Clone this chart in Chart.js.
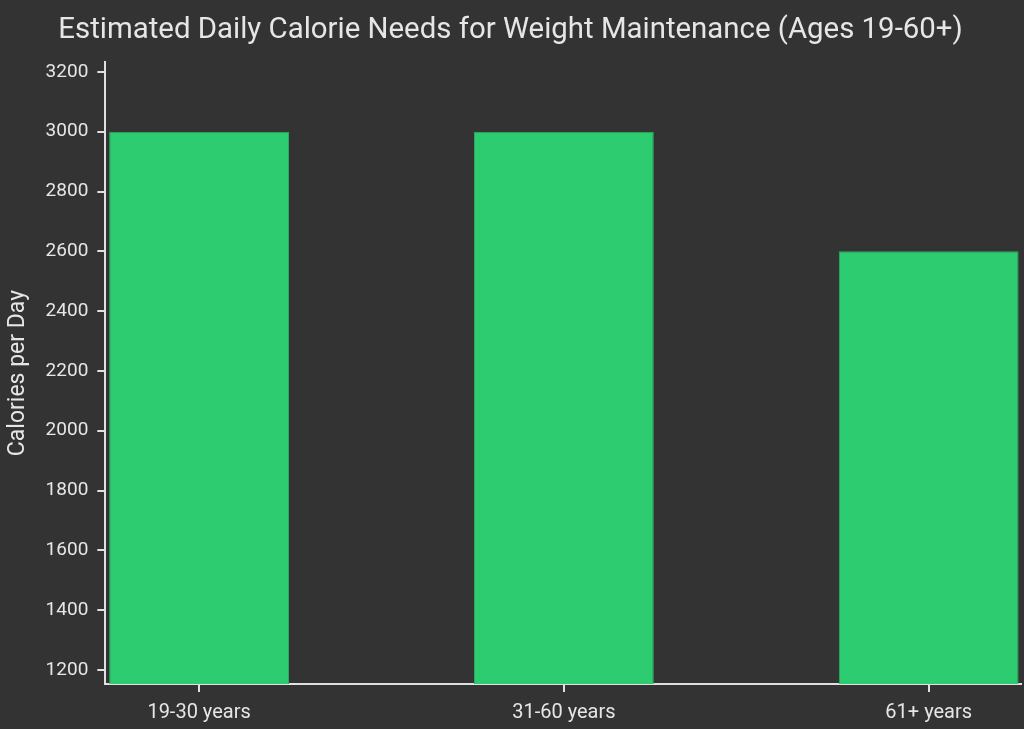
<!DOCTYPE html>
<html>
<head>
<meta charset="utf-8">
<script src="https://cdn.jsdelivr.net/npm/chart.js@4"></script>
<style>
html,body{margin:0;padding:0;background:#333333;overflow:hidden;}
#wrap{width:1024px;height:729px;position:relative;}
</style>
</head>
<body>
<div id="wrap"><canvas id="c"></canvas></div>
<script>
const categories = ["19-30 years", "31-60 years", "61+ years"];
const calories = [3000, 3000, 2600];
const yTicks = [1200, 1400, 1600, 1800, 2000, 2200, 2400, 2600, 2800, 3000, 3200];
const titleText = "Estimated Daily Calorie Needs for Weight Maintenance (Ages 19-60+)";
const yTitle = "Calories per Day";

const textColor = "#e6e6e6";
const axisColor = "#e0e0e0";
const fontFamily = "Roboto, 'Noto Sans', sans-serif";

new Chart(document.getElementById("c"), {
  type: "bar",
  data: {
    datasets: [{
      data: calories.map((v, i) => ({ x: i, y: v })),
      backgroundColor: "#2ecc71",
      borderColor: "#27ae60",
      borderWidth: 1,
      categoryPercentage: 1,
      barPercentage: 0.493
    }]
  },
  options: {
    responsive: true,
    maintainAspectRatio: false,
    animation: false,
    layout: { padding: { left: 0, right: 3, top: 0, bottom: -5 } },
    plugins: {
      legend: { display: false },
      tooltip: { enabled: false },
      title: {
        display: true,
        text: titleText,
        color: textColor,
        font: { family: fontFamily, size: 29.4, weight: "normal" },
        padding: { top: 13.4, bottom: 13.4 }
      }
    },
    scales: {
      x: {
        type: "linear",
        offset: false,
        min: -0.257,
        max: 2.253,
        afterBuildTicks: (s) => { s.ticks = categories.map((c, i) => ({ value: i })); },
        ticks: {
          color: textColor,
          font: { family: fontFamily, size: 20 },
          padding: 9,
          maxRotation: 0,
          autoSkip: false,
          callback: (v) => categories[v] ?? ""
        },
        grid: { offset: false, drawOnChartArea: false, color: axisColor, tickLength: 8, lineWidth: 2 },
        border: { color: axisColor, width: 2 }
      },
      y: {
        min: 1153,
        max: 3233,
        afterBuildTicks: (s) => { s.ticks = yTicks.map(v => ({ value: v })); },
        ticks: {
          color: textColor,
          font: { family: fontFamily, size: 19 },
          padding: 9,
          callback: (v) => String(v)
        },
        title: {
          display: true,
          text: yTitle,
          color: textColor,
          font: { family: fontFamily, size: 23 },
          padding: { top: 4, bottom: 5 }
        },
        grid: { drawOnChartArea: false, color: axisColor, tickLength: 8, lineWidth: 2 },
        border: { color: axisColor, width: 2 }
      }
    }
  }
});
</script>
</body>
</html>
